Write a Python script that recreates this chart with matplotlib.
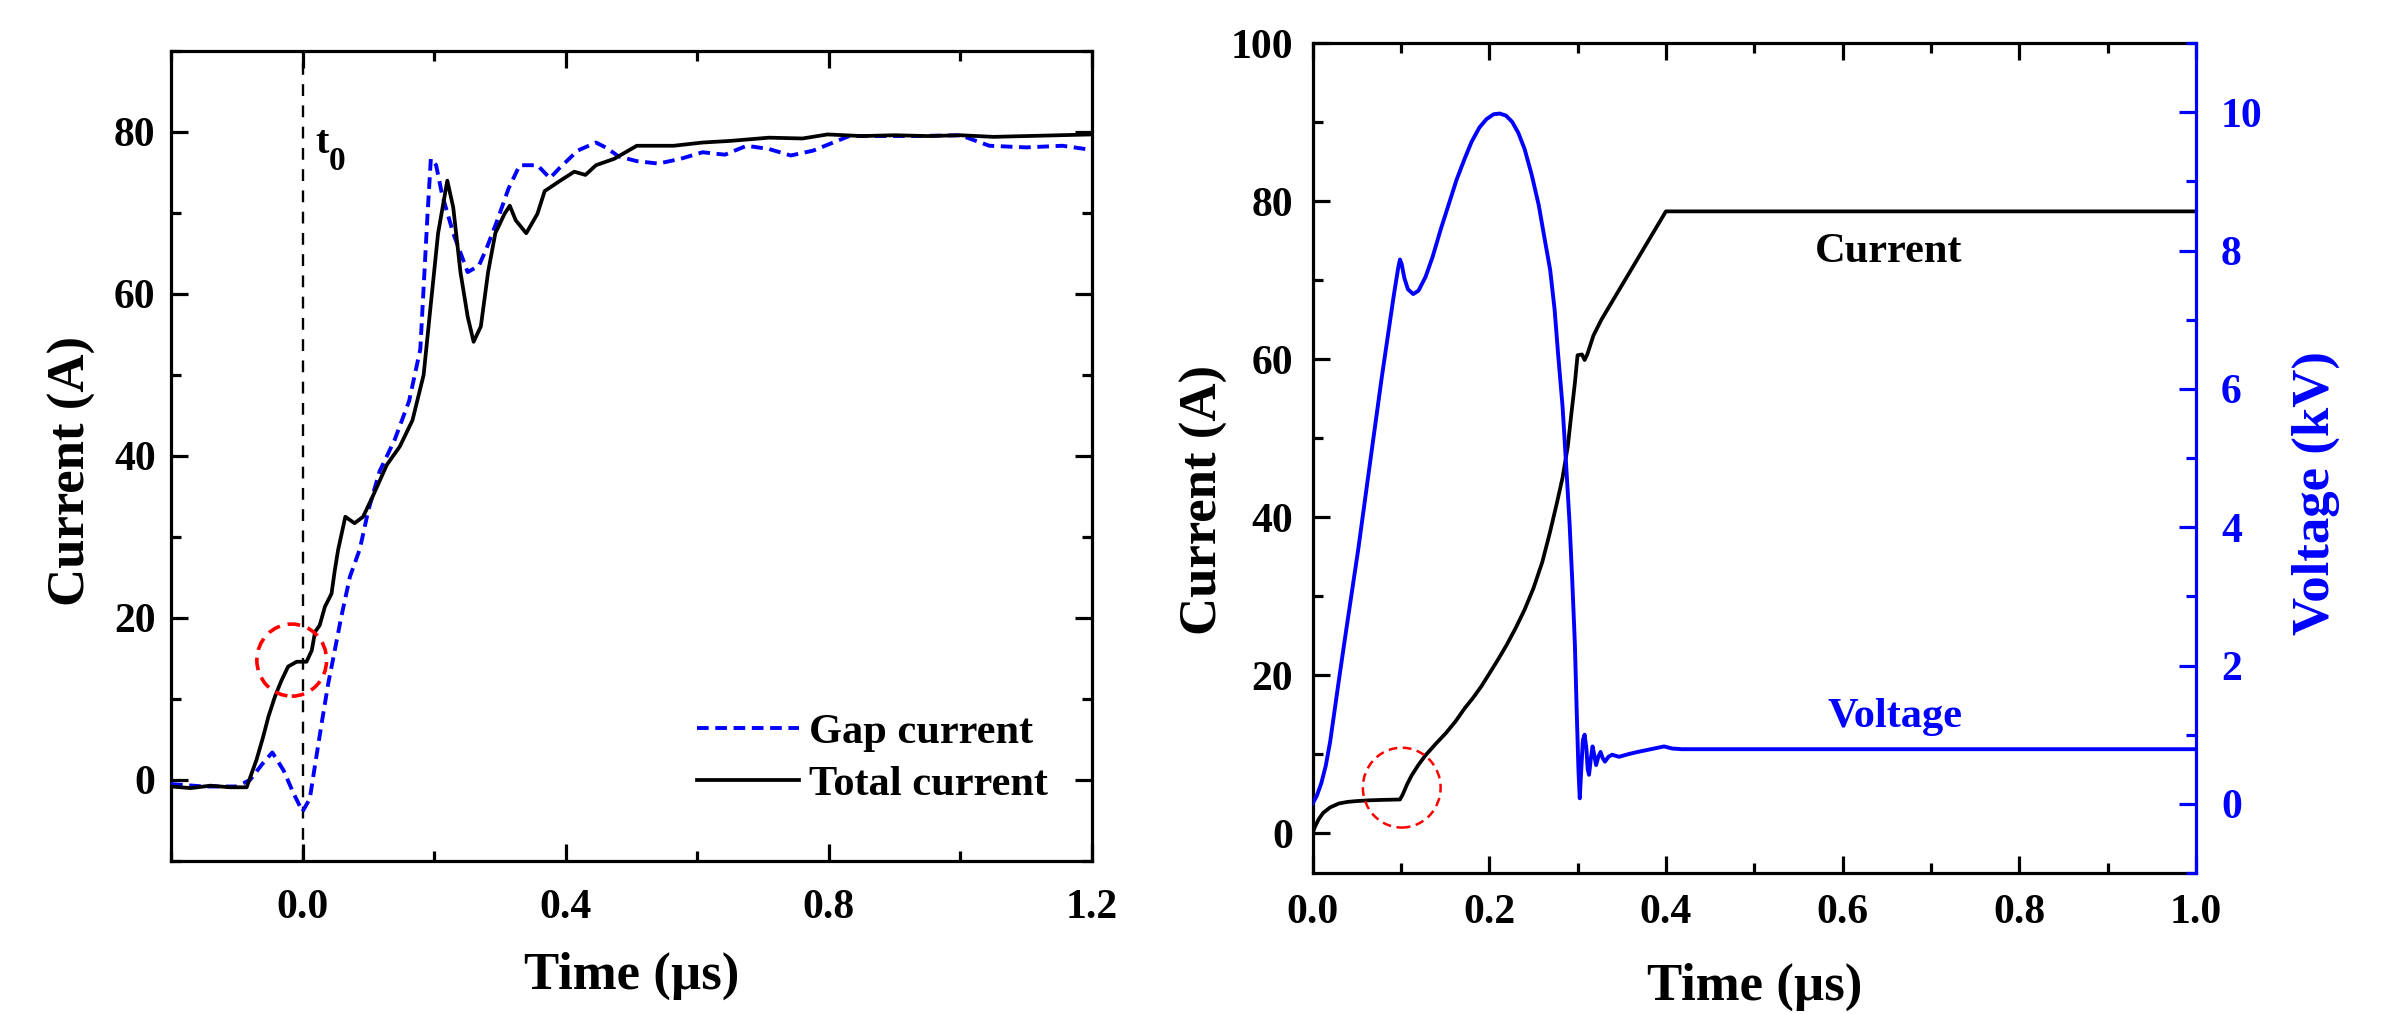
import matplotlib
matplotlib.use("Agg")
import matplotlib.pyplot as plt
from matplotlib.patches import Ellipse
from matplotlib.ticker import MultipleLocator

# ---------------- data ----------------
# Left panel: time in microseconds, current in A
total_t = [-0.2, -0.17, -0.14, -0.11, -0.085, -0.07, -0.06, -0.052, -0.042, -0.032, -0.022,
           -0.009, 0.006, 0.014, 0.019, 0.026, 0.034, 0.044, 0.049, 0.054, 0.065, 0.079,
           0.092, 0.106, 0.128, 0.148, 0.167, 0.184, 0.195, 0.206, 0.22, 0.229, 0.24, 0.251,
           0.26, 0.271, 0.282, 0.293, 0.307, 0.315, 0.324, 0.34, 0.357, 0.368, 0.39, 0.413,
           0.43, 0.446, 0.474, 0.508, 0.564, 0.608, 0.65, 0.709, 0.76, 0.798, 0.85, 0.9,
           0.95, 1.0, 1.05, 1.1, 1.15, 1.2]
total_i = [-0.8, -1.0, -0.7, -0.9, -0.9, 2.5, 5.3, 7.8, 10.3, 12.3, 14.0,
           14.6, 14.6, 16.0, 18.3, 19.1, 21.4, 23.0, 25.9, 28.4, 32.5, 31.7,
           32.5, 34.9, 38.9, 41.2, 44.4, 50.0, 58.8, 67.5, 74.0, 70.7, 62.7, 57.2,
           54.1, 56.0, 62.7, 67.5, 69.9, 70.9, 69.1, 67.5, 69.9, 72.7, 73.9, 75.1,
           74.7, 75.9, 76.7, 78.3, 78.3, 78.7, 78.9, 79.3, 79.2, 79.7, 79.5, 79.6,
           79.5, 79.6, 79.4, 79.5, 79.6, 79.7]

gap_t = [-0.2, -0.15, -0.1, -0.08, -0.06, -0.046, -0.029, -0.014, 0.0, 0.011, 0.021,
         0.029, 0.039, 0.047, 0.059, 0.072, 0.087, 0.1, 0.117, 0.14, 0.162, 0.179,
         0.19, 0.195, 0.203, 0.212, 0.229, 0.251, 0.268, 0.279, 0.296, 0.313, 0.33,
         0.357, 0.376, 0.39, 0.418, 0.446, 0.463, 0.48, 0.508, 0.541, 0.575, 0.608,
         0.642, 0.675, 0.709, 0.742, 0.776, 0.831, 0.932, 1.0, 1.044, 1.1, 1.155,
         1.19, 1.2]
gap_i = [-0.5, -0.8, -0.8, 0.0, 2.1, 3.4, 1.2, -1.6, -3.9, -2.3, 2.9,
         7.0, 11.9, 15.2, 20.2, 25.1, 28.5, 33.3, 38.1, 42.0, 46.8, 53.2,
         69.9, 76.7, 75.9, 72.3, 67.5, 62.7, 63.5, 65.5, 69.1, 73.0, 75.9,
         75.9, 74.3, 75.5, 77.7, 78.7, 78.0, 77.0, 76.4, 76.1, 76.7, 77.5,
         77.2, 78.3, 77.9, 77.1, 77.7, 79.5, 79.5, 79.6, 78.3, 78.1, 78.3,
         77.9, 78.0]

# Right panel: simulated current (A) and voltage (kV)
sim_t = [0.0, 0.003, 0.007, 0.012, 0.02, 0.03, 0.04, 0.05, 0.065, 0.08, 0.099, 0.102,
         0.107, 0.112, 0.12, 0.128, 0.14, 0.151, 0.162, 0.172, 0.182, 0.191, 0.2, 0.21,
         0.22, 0.23, 0.24, 0.25, 0.26, 0.269, 0.277, 0.283, 0.289, 0.293, 0.297, 0.300,
         0.305, 0.308, 0.311, 0.318, 0.327, 0.4, 1.0]
sim_i = [0.0, 0.9, 1.8, 2.6, 3.3, 3.8, 4.0, 4.1, 4.2, 4.25, 4.3, 4.9,
         6.2, 7.3, 8.7, 9.9, 11.4, 12.7, 14.2, 15.8, 17.2, 18.6, 20.2, 22.0,
         23.9, 26.0, 28.3, 31.0, 34.3, 38.2, 42.0, 45.0, 49.0, 53.1, 57.0, 60.5,
         60.6, 59.9, 60.6, 63.0, 65.0, 78.7, 78.7]

volt_t = [0.0, 0.005, 0.01, 0.015, 0.02, 0.025, 0.03, 0.038, 0.045, 0.052, 0.065,
          0.078, 0.092, 0.097, 0.099, 0.101, 0.104, 0.108, 0.114, 0.12, 0.128, 0.136,
          0.145, 0.154, 0.163, 0.172, 0.18, 0.189, 0.197, 0.205, 0.212, 0.219, 0.226,
          0.233, 0.24, 0.248, 0.256, 0.263, 0.269, 0.274, 0.278, 0.283, 0.287, 0.291,
          0.294, 0.297, 0.299, 0.301, 0.3025, 0.304, 0.306, 0.308, 0.310, 0.3115, 0.313,
          0.315, 0.317, 0.319, 0.321, 0.3235, 0.326, 0.3285, 0.331, 0.335, 0.339, 0.347,
          0.358, 0.368, 0.383, 0.398, 0.407, 0.418, 1.0]
volt_v = [0.0, 0.12, 0.3, 0.55, 0.9, 1.35, 1.8, 2.5, 3.1, 3.7, 4.92,
          6.13, 7.35, 7.75, 7.87, 7.8, 7.6, 7.44, 7.37, 7.42, 7.62, 7.91,
          8.3, 8.66, 9.02, 9.32, 9.57, 9.78, 9.9, 9.97, 9.98, 9.95, 9.86,
          9.7, 9.47, 9.1, 8.66, 8.15, 7.72, 7.15, 6.5, 5.75, 4.92, 4.05,
          3.23, 2.3, 1.36, 0.5, 0.08, 0.45, 0.92, 1.0, 0.8, 0.5, 0.42,
          0.65, 0.83, 0.7, 0.56, 0.68, 0.75, 0.66, 0.61, 0.68, 0.71, 0.68,
          0.72, 0.75, 0.79, 0.83, 0.80, 0.79, 0.79]

left_xticks = [0.0, 0.4, 0.8, 1.2]
left_yticks = [0, 20, 40, 60, 80]
right_xticks = [0.0, 0.2, 0.4, 0.6, 0.8, 1.0]
right_yticks = [0, 20, 40, 60, 80, 100]
volt_ticks = [0, 2, 4, 6, 8, 10]

# ---------------- style ----------------
plt.rcParams['font.family'] = ['Liberation Serif', 'DejaVu Serif']
plt.rcParams['font.weight'] = 'bold'
plt.rcParams['axes.labelweight'] = 'bold'

BLUE = '#0000ff'
TICK_FS = 30
LABEL_FS = 38
TEXT_FS = 30.5
SPINE_W = 2.3

fig = plt.figure(figsize=(23.81, 10.14), dpi=100)

ax1 = fig.add_axes([171/2381, (1014-861)/1014, 921/2381, 810/1014])
ax2 = fig.add_axes([1312.5/2381, (1014-873)/1014, 883.5/2381, 830/1014])


def style_axis(ax, pad_x, pad_y, right=True):
    for s in ax.spines.values():
        s.set_linewidth(SPINE_W)
    ax.tick_params(which='both', direction='in', top=True, right=right, width=SPINE_W,
                   labelsize=TICK_FS)
    ax.tick_params(which='major', length=12)
    ax.tick_params(which='minor', length=7)
    ax.tick_params(axis='x', which='major', pad=pad_x)
    ax.tick_params(axis='y', which='major', pad=pad_y)


# ---------------- left panel ----------------
ax1.plot(gap_t, gap_i, color=BLUE, lw=2.8, linestyle=(0, (3.0, 1.7)), label='Gap current', zorder=3)
ax1.plot(total_t, total_i, color='black', lw=2.7, label='Total current', zorder=4)
ax1.axvline(0.0, color='black', lw=1.7, linestyle=(0, (5, 4)), zorder=2)
ax1.add_patch(Ellipse((-0.0165, 14.8), 0.106, 8.9, fill=False, edgecolor='red',
                      lw=2.6, linestyle=(0, (3.5, 2.2)), zorder=5))
ax1.text(0.019, 77.4, 't', fontsize=29, fontweight='bold', va='baseline', ha='left')
ax1.text(0.040, 75.3, '0', fontsize=24, fontweight='bold', va='baseline', ha='left')

ax1.set_xlim(-0.2, 1.2)
ax1.set_ylim(-10, 90)
ax1.set_xticks(left_xticks)
ax1.set_xticklabels([f'{v:.1f}' for v in left_xticks])
ax1.set_yticks(left_yticks)
ax1.xaxis.set_minor_locator(MultipleLocator(0.2))
ax1.yaxis.set_minor_locator(MultipleLocator(10))
style_axis(ax1, pad_x=20, pad_y=11)
ax1.set_xlabel('Time (µs)', fontsize=LABEL_FS, fontweight='bold')
ax1.set_ylabel('Current (A)', fontsize=LABEL_FS, fontweight='bold')
ax1.xaxis.set_label_coords(0.5, -0.112)
ax1.yaxis.set_label_coords(-0.081, 0.481)

leg = ax1.legend(loc='center left', bbox_to_anchor=(0.571, 0.1265), frameon=False,
                 fontsize=TEXT_FS, borderpad=0, borderaxespad=0, handlelength=2.4,
                 handletextpad=0.25, labelspacing=0.3)
for t in leg.get_texts():
    t.set_fontweight('bold')

# ---------------- right panel ----------------
ax2.plot(sim_t, sim_i, color='black', lw=2.7, zorder=3)
ax2.add_patch(Ellipse((0.101, 5.8), 0.088, 10.1, fill=False, edgecolor='red',
                      lw=1.8, linestyle=(0, (3.5, 2.2)), zorder=5))
ax2.text(0.652, 72.3, 'Current', fontsize=TEXT_FS, fontweight='bold', color='black',
         ha='center', va='baseline')
ax2.set_xlim(0.0, 1.0)
ax2.set_ylim(-5, 100)
ax2.set_xticks(right_xticks)
ax2.set_xticklabels([f'{v:.1f}' for v in right_xticks])
ax2.set_yticks(right_yticks)
ax2.xaxis.set_minor_locator(MultipleLocator(0.1))
ax2.yaxis.set_minor_locator(MultipleLocator(10))
style_axis(ax2, pad_x=15, pad_y=14, right=False)
ax2.set_xlabel('Time (µs)', fontsize=LABEL_FS, fontweight='bold')
ax2.set_ylabel('Current (A)', fontsize=LABEL_FS, fontweight='bold')
ax2.xaxis.set_label_coords(0.5, -0.108)
ax2.yaxis.set_label_coords(-0.0956, 0.449)

ax3 = ax2.twinx()
ax3.plot(volt_t, volt_v, color=BLUE, lw=2.8, zorder=3)
ax3.text(0.659, 1.11, 'Voltage', fontsize=TEXT_FS, fontweight='bold', color=BLUE,
         ha='center', va='baseline')
ax3.set_ylim(-1, 11)
ax3.set_yticks(volt_ticks)
ax3.yaxis.set_minor_locator(MultipleLocator(1))
for name, s in ax3.spines.items():
    s.set_linewidth(SPINE_W)
    if name != 'right':
        s.set_visible(False)
ax3.spines['right'].set_color(BLUE)
ax3.tick_params(axis='y', which='both', direction='in', colors=BLUE, width=SPINE_W,
                labelsize=TICK_FS, pad=18)
ax3.tick_params(axis='y', which='major', length=12)
ax3.tick_params(axis='y', which='minor', length=7)
ax3.set_ylabel('Voltage (kV)', fontsize=LABEL_FS, fontweight='bold', color=BLUE)
ax3.yaxis.set_label_coords(1.108, 0.458)
ax2.spines['right'].set_visible(False)

fig.savefig('out.png', dpi=100)
